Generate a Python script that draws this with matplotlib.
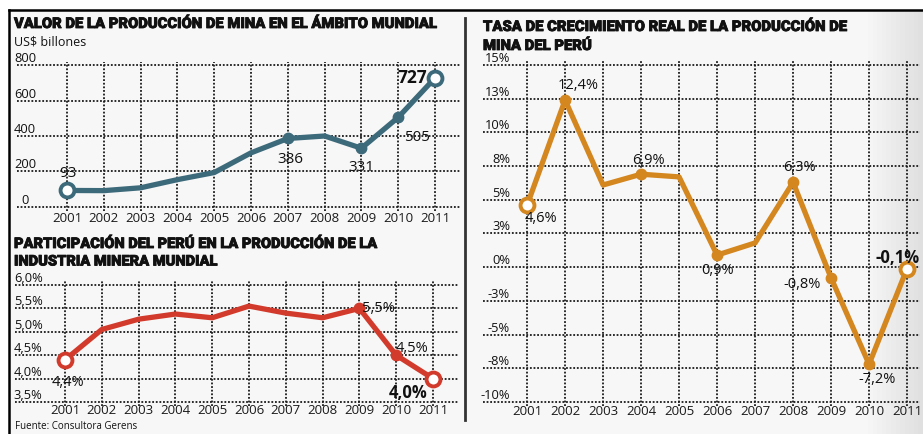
import matplotlib
matplotlib.use('Agg')
import matplotlib.pyplot as plt
import matplotlib.patheffects as pe
from matplotlib.lines import Line2D
from matplotlib.patches import Rectangle

# ---- data ----
years = list(range(2001, 2012))

valor = [93, 92, 108, 154, 194, 305, 386, 400, 331, 505, 727]
valor_ticks = [0, 200, 400, 600, 800]
valor_tick_labels = ['0', '200', '400', '600', '800']

particip = [4.4, 5.05, 5.27, 5.38, 5.3, 5.55, 5.4, 5.3, 5.5, 4.5, 4.0]
particip_ticks = [3.5, 4.0, 4.5, 5.0, 5.5, 6.0]
particip_tick_labels = ['3,5%', '4,0%', '4,5%', '5,0%', '5,5%', '6,0%']

tasa = [4.6, 12.4, 6.1, 6.9, 6.7, 0.9, 1.8, 6.3, -0.8, -7.2, -0.1]
tasa_ticks = [-10, -7.5, -5, -2.5, 0, 2.5, 5, 7.5, 10, 12.5, 15]
tasa_tick_labels = ['-10%', '-8%', '-5%', '-3%', '0%', '3%', '5%', '8%', '10%', '13%', '15%']

# (index, text, dx px, dy px, bold)
valor_labels = [(0, '93', 1, 17, False), (6, '386', 3, -21, False), (8, '331', 0, -19, False),
                (9, '505', 19, -20, False), (10, '727', -23, 0, True)]
particip_labels = [(0, '4,4%', 3, -23, False), (8, '5,5%', 19, 0, False),
                   (9, '4,5%', 16, 7, False), (10, '4,0%', -25, -14, True)]
tasa_labels = [(0, '4,6%', 14, -13, False), (1, '12,4%', 13, 15, False), (3, '6,9%', 7, 14, False),
               (5, '0,9%', 0, -15, False), (7, '6,3%', 6, 15, False), (8, '-0,8%', -29, -7, False),
               (9, '-7,2%', 8, -15, False), (10, '-0,1%', -10, 11, True)]

W, H = 923, 434
plt.rcParams['font.family'] = ['Open Sans', 'DejaVu Sans']

fig = plt.figure(figsize=(W / 100, H / 100), dpi=100, facecolor='white')

# background and frame
fig.patches.append(Rectangle((9 / W, 0), (W - 9) / W, 1 - 10 / H, transform=fig.transFigure,
                             facecolor='#f7f7f7', edgecolor='none', zorder=-2))
steps = 12
for k in range(steps):
    x0 = 868 + k * (W - 868) / steps
    g = 0.96 - 0.09 * k / steps
    fig.patches.append(Rectangle((x0 / W, 0), ((W - 868) / steps + 0.5) / W, 1 - 10 / H,
                                 transform=fig.transFigure, facecolor=(g, g, g),
                                 edgecolor='none', zorder=-1))
fig.lines.append(Line2D([9 / W, 1], [1 - 10 / H, 1 - 10 / H], transform=fig.transFigure,
                        color='black', linewidth=1.8))
fig.lines.append(Line2D([9 / W, 9 / W], [0, 1 - 10 / H], transform=fig.transFigure,
                        color='black', linewidth=1.8))
fig.lines.append(Line2D([465 / W, 465 / W], [1 - 18 / H, 1 - 420 / H], transform=fig.transFigure,
                        color='#333333', linewidth=2))


def px_axes(left, top, right, bottom):
    ax = fig.add_axes([left / W, 1 - bottom / H, (right - left) / W, (bottom - top) / H])
    ax.patch.set_alpha(0)
    ax.set_zorder(2)
    for s in ax.spines.values():
        s.set_visible(False)
    return ax


def fit_text(x, y, s, width, **kw):
    t = fig.text(x / W, 1 - y / H, s, **kw)
    r = fig.canvas.get_renderer()
    w = t.get_window_extent(r).width
    t.set_fontsize(t.get_fontsize() * width / w)
    return t


def draw_panel(ax, values, ticks, tick_labels, label_x, label_ha, color, dots, opens,
               labels, label_size, year_pad):
    ax.set_xticks(years)
    ax.set_xticklabels([str(y) for y in years], fontsize=9.5, color='#1a1a1a')
    ax.set_yticks(ticks)
    ax.tick_params(axis='x', length=0, pad=year_pad)
    ax.tick_params(axis='y', length=0, labelleft=False)
    ax.grid(True, color='#1a1a1a', linestyle=(0, (1, 1)), linewidth=1.3)
    ax.set_axisbelow(True)
    for t, lab in zip(ticks, tick_labels):
        ax.text(label_x, t, lab, transform=ax.get_yaxis_transform(), ha=label_ha,
                va='bottom', fontsize=9.3, fontweight='medium', color='#111111')
    ax.plot(years, values, color=color, linewidth=3.8, solid_joinstyle='round',
            solid_capstyle='round', zorder=3, clip_on=False)
    ax.plot([years[i] for i in dots], [values[i] for i in dots], 'o', color=color,
            markersize=7.5, zorder=4, clip_on=False)
    ax.plot([years[i] for i in opens], [values[i] for i in opens], 'o', markerfacecolor='white',
            markeredgecolor=color, markeredgewidth=2.8, markersize=10, zorder=5, clip_on=False)
    for i, txt, dx, dy, bold in labels:
        ax.annotate(txt, (years[i], values[i]), xytext=(dx, dy), textcoords='offset pixels',
                    ha='center', va='center', fontsize=label_size + 1.5 if bold else label_size,
                    fontweight='bold' if bold else 'normal', color='#111111', zorder=6,
                    annotation_clip=False)


title_kw = dict(fontfamily=['Roboto', 'DejaVu Sans'], fontweight='heavy', color='#111111',
                fontsize=10, va='baseline', ha='left',
                path_effects=[pe.withStroke(linewidth=0.6, foreground='#111111')])

# top-left panel
ax1 = px_axes(17, 61.5, 460, 210.5)
ax1.set_xlim(1999.64, 2011.68)
ax1.set_ylim(-20, 820)
draw_panel(ax1, valor, valor_ticks, valor_tick_labels, 0.018, 'center', '#3d6a7a',
           [6, 8, 9], [0, 10], valor_labels, 11, 1)
fit_text(14, 28, 'VALOR DE LA PRODUCCIÓN DE MINA EN EL ÁMBITO MUNDIAL', 423, **title_kw)
fig.text(14 / W, 1 - 45 / H, 'US$ billones', fontsize=9, fontweight='medium', color='#111111',
         va='baseline', ha='left')

# bottom-left panel
ax2 = px_axes(15, 281.3, 458, 405.7)
ax2.set_xlim(1999.64, 2011.68)
ax2.set_ylim(3.42, 6.08)
draw_panel(ax2, particip, particip_ticks, particip_tick_labels, 0.03, 'center', '#d23b2c',
           [8, 9], [0, 10], particip_labels, 10.5, -1)
t = fit_text(14, 248, 'PARTICIPACIÓN DEL PERÚ EN LA PRODUCCIÓN DE LA', 363, **title_kw)
fig.text(14 / W, 1 - 265.5 / H, 'INDUSTRIA MINERA MUNDIAL', **title_kw).set_fontsize(t.get_fontsize())
fig.text(15 / W, 1 - 429 / H, 'Fuente: Consultora Gerens', fontsize=7, fontweight='medium',
         color='#111111', va='baseline', ha='left')

# right panel
ax3 = px_axes(483, 61, 920, 406)
ax3.set_xlim(1999.84, 2011.34)
ax3.set_ylim(-10.3, 15.3)
draw_panel(ax3, tasa, tasa_ticks, tasa_tick_labels, 0.062, 'right', '#d4861f',
           [1, 3, 5, 7, 8, 9], [0, 10], tasa_labels, 10.5, -1)
t = fit_text(483, 31, 'TASA DE CRECIMIENTO REAL DE LA PRODUCCIÓN DE', 364, **title_kw)
fig.text(483 / W, 1 - 50 / H, 'MINA DEL PERÚ', **title_kw).set_fontsize(t.get_fontsize())

fig.savefig('out.png', dpi=100, facecolor='white')
